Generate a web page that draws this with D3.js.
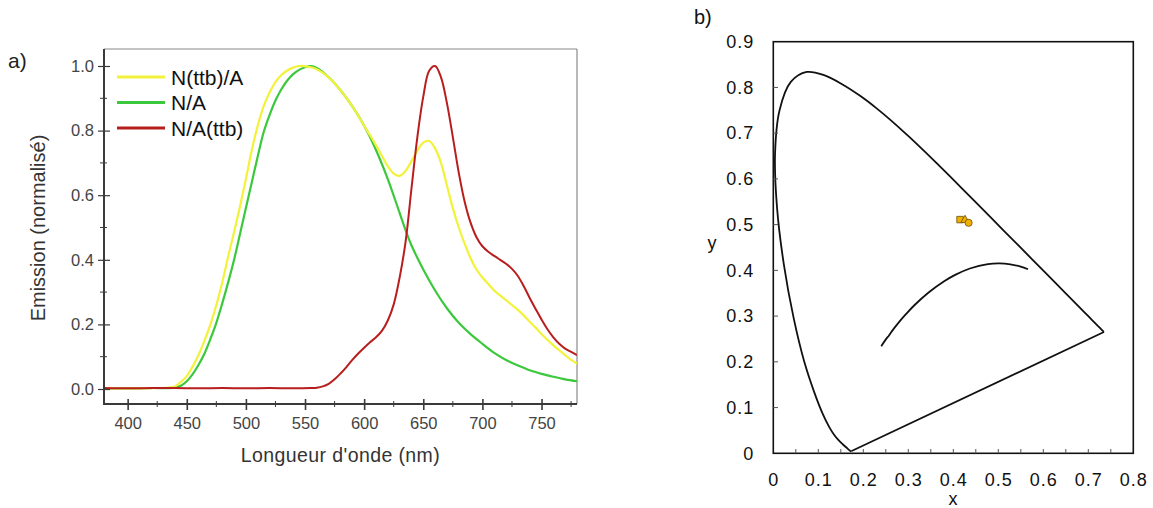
<!DOCTYPE html>
<html><head><meta charset="utf-8">
<script src="https://cdn.jsdelivr.net/npm/d3@7"></script>
<style>body{margin:0;background:#fff}svg{display:block}text{font-family:"Liberation Sans",Arial,sans-serif}</style>
</head><body><svg id="c" width="1153" height="508"></svg>
<script>
// ---------- Panel a) emission spectra ----------
const wlTicks = [400,450,500,550,600,650,700,750];
const emTicks = [0.0,0.2,0.4,0.6,0.8,1.0];
const seriesNames = ["N(ttb)/A","N/A","N/A(ttb)"];
const seriesColors = ["#f2f23a","#3cc83c","#b81e1e"];

const wlYellow = [380,400,420,435,440,445,450,455,460,465,470,475,480,485,490,495,500,505,510,515,520,525,530,535,540,545,550,555,560,570,580,590,600,605,610,615,620,625,630,635,640,645,650,655,660,665,670,675,680,685,690,695,700,705,710,715,720,725,730,735,740,745,750,755,760,765,770,775,780];
const valYellow = [0.003,0.002,0.003,0.004,0.008,0.022,0.040,0.070,0.105,0.150,0.200,0.260,0.330,0.410,0.485,0.565,0.650,0.740,0.815,0.875,0.918,0.950,0.972,0.986,0.995,1.000,0.999,0.996,0.990,0.965,0.925,0.875,0.815,0.785,0.755,0.722,0.690,0.667,0.660,0.675,0.705,0.738,0.763,0.768,0.745,0.700,0.630,0.560,0.500,0.450,0.405,0.370,0.345,0.325,0.305,0.290,0.275,0.260,0.245,0.228,0.208,0.190,0.170,0.152,0.135,0.120,0.105,0.090,0.079];

const wlGreen = [380,400,420,440,445,450,455,460,465,470,475,480,485,490,495,500,505,510,515,520,525,530,535,540,545,550,555,560,570,580,590,600,610,620,630,635,640,650,660,670,680,690,700,710,720,730,740,750,760,770,780];
const valGreen = [0.003,0.002,0.003,0.004,0.010,0.024,0.046,0.075,0.110,0.155,0.205,0.265,0.330,0.400,0.480,0.560,0.640,0.720,0.795,0.848,0.893,0.928,0.955,0.975,0.988,0.996,1.000,0.994,0.965,0.925,0.875,0.815,0.740,0.650,0.545,0.492,0.445,0.370,0.305,0.250,0.205,0.170,0.140,0.112,0.090,0.073,0.058,0.047,0.038,0.030,0.024];

const wlRed = [380,400,420,440,460,480,500,520,540,555,560,565,570,575,580,585,590,595,600,605,610,615,620,625,630,635,640,645,650,655,660,665,670,675,680,685,690,695,700,705,710,715,720,725,730,735,740,745,750,755,760,765,770,775,780];
const valRed = [0.003,0.002,0.003,0.003,0.002,0.003,0.002,0.003,0.002,0.003,0.004,0.008,0.016,0.030,0.048,0.068,0.090,0.110,0.128,0.145,0.160,0.180,0.212,0.262,0.345,0.455,0.620,0.780,0.905,0.985,1.000,0.965,0.885,0.780,0.670,0.580,0.515,0.470,0.442,0.425,0.412,0.400,0.388,0.372,0.350,0.318,0.282,0.248,0.215,0.185,0.160,0.140,0.125,0.115,0.105];

// ---------- Panel b) CIE 1931 chromaticity ----------
const cieTicksX = [0,0.1,0.2,0.3,0.4,0.5,0.6,0.7,0.8];
const cieTicksY = [0,0.1,0.2,0.3,0.4,0.5,0.6,0.7,0.8,0.9];
const locusX = [0.1741,0.1740,0.1738,0.1736,0.1733,0.1730,0.1726,0.1721,0.1714,0.1703,0.1689,0.1669,0.1644,0.1611,0.1566,0.1510,0.1440,0.1355,0.1241,0.1096,0.0913,0.0687,0.0454,0.0235,0.0082,0.0039,0.0139,0.0389,0.0743,0.1142,0.1547,0.1929,0.2296,0.2658,0.3016,0.3373,0.3731,0.4087,0.4441,0.4788,0.5125,0.5448,0.5752,0.6029,0.6270,0.6482,0.6658,0.6801,0.6915,0.7006,0.7079,0.7140,0.7190,0.7230,0.7260,0.7283,0.7300,0.7311,0.7320,0.7327,0.7334,0.7340,0.7344,0.7346,0.7347];
const locusY = [0.0050,0.0050,0.0049,0.0049,0.0048,0.0048,0.0048,0.0048,0.0051,0.0058,0.0069,0.0086,0.0109,0.0138,0.0177,0.0227,0.0297,0.0399,0.0578,0.0868,0.1327,0.2007,0.2950,0.4127,0.5384,0.6548,0.7502,0.8120,0.8338,0.8262,0.8059,0.7816,0.7543,0.7243,0.6923,0.6589,0.6245,0.5896,0.5547,0.5202,0.4866,0.4544,0.4242,0.3965,0.3725,0.3514,0.3340,0.3197,0.3083,0.2993,0.2920,0.2859,0.2809,0.2770,0.2740,0.2717,0.2700,0.2689,0.2680,0.2673,0.2666,0.2660,0.2656,0.2654,0.2653];
const planckX = [0.2399,0.2525,0.2564,0.2637,0.2807,0.2952,0.3135,0.3451,0.3805,0.4053,0.4369,0.4770,0.5026,0.5267,0.5497,0.5660];
const planckY = [0.2342,0.2523,0.2566,0.2671,0.2884,0.3048,0.3237,0.3516,0.3768,0.3907,0.4041,0.4137,0.4152,0.4133,0.4083,0.4025];
const pointNames = ["square","triangle","circle"];
const pointX = [0.415,0.426,0.434];
const pointY = [0.511,0.510,0.504];

const svg = d3.select("#c");

// ===== Panel a =====
const xa = d3.scaleLinear().domain([380,780]).range([104,577]);
const ya = d3.scaleLinear().domain([0,1]).range([389,66]);
const ga = svg.append("g");
const axCol = "#3a3a3a";

ga.append("line").attr("x1",104).attr("x2",577).attr("y1",49).attr("y2",49).attr("stroke","#8a8a8a").attr("stroke-width",1.2);
ga.append("line").attr("x1",577).attr("x2",577).attr("y1",49).attr("y2",404).attr("stroke","#8a8a8a").attr("stroke-width",1.2);

ga.append("clipPath").attr("id","clipA").append("rect").attr("x",104).attr("y",49).attr("width",473).attr("height",355);
const lineA = d3.line().x(d=>xa(d[0])).y(d=>ya(d[1])).curve(d3.curveCatmullRom);
const cg = ga.append("g").attr("clip-path","url(#clipA)");
cg.append("path").datum(d3.zip(wlGreen,valGreen)).attr("d",lineA).attr("fill","none").attr("stroke",seriesColors[1]).attr("stroke-width",2.2);
cg.append("path").datum(d3.zip(wlYellow,valYellow)).attr("d",lineA).attr("fill","none").attr("stroke",seriesColors[0]).attr("stroke-width",2.2);
cg.append("path").datum(d3.zip(wlRed,valRed)).attr("d",lineA).attr("fill","none").attr("stroke",seriesColors[2]).attr("stroke-width",2.0);

const xAxisA = d3.axisBottom(xa).tickValues(wlTicks).tickSize(6).tickPadding(10).tickFormat(d3.format("d"));
const gxa = ga.append("g").attr("transform","translate(0,404)").call(xAxisA);
gxa.select(".domain").remove();
gxa.selectAll(".tick line").attr("y1",-5).attr("y2",6).attr("stroke",axCol).attr("stroke-width",1.6);
gxa.selectAll(".tick text").attr("font-size",16.5).attr("fill","#444").attr("dy",0).attr("y",25);
ga.append("g").selectAll("line").data(d3.range(425,780,50)).join("line")
  .attr("x1",d=>xa(d)).attr("x2",d=>xa(d)).attr("y1",401).attr("y2",407).attr("stroke",axCol).attr("stroke-width",1);

const yAxisA = d3.axisLeft(ya).tickValues(emTicks).tickSize(6).tickPadding(4).tickFormat(d3.format(".1f"));
const gya = ga.append("g").attr("transform","translate(104,0)").call(yAxisA);
gya.select(".domain").remove();
gya.selectAll(".tick line").attr("x1",-6).attr("x2",6).attr("stroke",axCol).attr("stroke-width",1.2);
gya.selectAll(".tick text").attr("font-size",16.5).attr("fill","#444");
ga.append("g").selectAll("line").data(d3.range(0.1,1.0,0.2)).join("line")
  .attr("x1",100).attr("x2",107).attr("y1",d=>ya(d)).attr("y2",d=>ya(d)).attr("stroke",axCol).attr("stroke-width",1);

ga.append("line").attr("x1",104).attr("x2",104).attr("y1",49).attr("y2",404).attr("stroke",axCol).attr("stroke-width",2);
ga.append("line").attr("x1",103).attr("x2",577).attr("y1",404).attr("y2",404).attr("stroke",axCol).attr("stroke-width",2);

ga.append("text").attr("x",340.5).attr("y",462).attr("text-anchor","middle").attr("font-size",19.5).attr("letter-spacing","0.4px").attr("fill","#333").text("Longueur d'onde (nm)");
ga.append("text").attr("transform","translate(45,228) rotate(-90)").attr("text-anchor","middle").attr("font-size",20).attr("fill","#333").text("Emission (normalisé)");
ga.append("text").attr("x",8).attr("y",68).attr("font-size",21).attr("fill","#222").text("a)");

const lg = ga.append("g");
seriesNames.forEach((n,i)=>{
  const yy = 77 + i*25.5;
  lg.append("line").attr("x1",117).attr("x2",165).attr("y1",yy).attr("y2",yy).attr("stroke",seriesColors[i]).attr("stroke-width",3);
  lg.append("text").attr("x",171).attr("y",yy).attr("dy","0.36em").attr("font-size",21).attr("fill","#111").text(n);
});

// ===== Panel b =====
const xb = d3.scaleLinear().domain([0,0.8]).range([773.3,1133.3]);
const yb = d3.scaleLinear().domain([0,0.9]).range([453.3,41.7]);
const gb = svg.append("g");
gb.append("rect").attr("x",773.3).attr("y",41.7).attr("width",360).attr("height",411.6).attr("fill","none").attr("stroke","#111").attr("stroke-width",1.6);

const locus = d3.zip(locusX,locusY);
gb.append("path").datum(locus).attr("d",d3.line().x(d=>xb(d[0])).y(d=>yb(d[1])).curve(d3.curveCatmullRom)).attr("fill","none").attr("stroke","#111").attr("stroke-width",1.8);
gb.append("path").datum([locus[locus.length-1],locus[0]]).attr("d",d3.line().x(d=>xb(d[0])).y(d=>yb(d[1]))).attr("fill","none").attr("stroke","#111").attr("stroke-width",1.8);
gb.append("path").datum(d3.zip(planckX,planckY)).attr("d",d3.line().x(d=>xb(d[0])).y(d=>yb(d[1])).curve(d3.curveCatmullRom)).attr("fill","none").attr("stroke","#111").attr("stroke-width",1.8);

const fmtB = d=>d===0?"0":d3.format(".1f")(d);
const xAxisB = d3.axisBottom(xb).tickValues(cieTicksX).tickSize(0).tickPadding(20).tickFormat(fmtB);
const gxb = gb.append("g").attr("transform","translate(0,453.3)").call(xAxisB);
gxb.select(".domain").remove();
gxb.selectAll(".tick text").attr("font-size",18).attr("letter-spacing","1px").attr("fill","#111");
gb.append("g").selectAll("line").data(d3.range(0.05,0.8,0.05)).join("line")
  .attr("x1",d=>xb(d)).attr("x2",d=>xb(d)).attr("y1",453.3).attr("y2",449).attr("stroke","#555").attr("stroke-width",1);

const yAxisB = d3.axisLeft(yb).tickValues(cieTicksY).tickSize(0).tickPadding(19).tickFormat(fmtB);
const gyb = gb.append("g").attr("transform","translate(773.3,0)").call(yAxisB);
gyb.select(".domain").remove();
gyb.selectAll(".tick text").attr("font-size",18).attr("letter-spacing","1px").attr("fill","#111");
gb.append("g").selectAll("line").data(cieTicksY.slice(1,-1)).join("line")
  .attr("x1",773.3).attr("x2",778).attr("y1",d=>yb(d)).attr("y2",d=>yb(d)).attr("stroke","#555").attr("stroke-width",1);

gb.append("text").attr("x",953).attr("y",505).attr("text-anchor","middle").attr("font-size",18).attr("fill","#111").text("x");
gb.append("text").attr("x",712).attr("y",249).attr("text-anchor","middle").attr("font-size",18).attr("fill","#111").text("y");
gb.append("text").attr("x",694).attr("y",24).attr("font-size",20).attr("fill","#111").text("b)");

const mk = gb.append("g");
const mkFill = "#f0b000", mkStroke = "#7a5a10";
pointNames.forEach((n,i)=>{
  const sym = n==="square"?d3.symbolSquare:(n==="triangle"?d3.symbolTriangle:d3.symbolCircle);
  const size = n==="square"?42:(n==="triangle"?30:40);
  mk.append("path").attr("d",d3.symbol().type(sym).size(size)())
    .attr("transform",`translate(${xb(pointX[i])},${yb(pointY[i])})`)
    .attr("fill",mkFill).attr("stroke",mkStroke).attr("stroke-width",0.9);
});
</script></body></html>
